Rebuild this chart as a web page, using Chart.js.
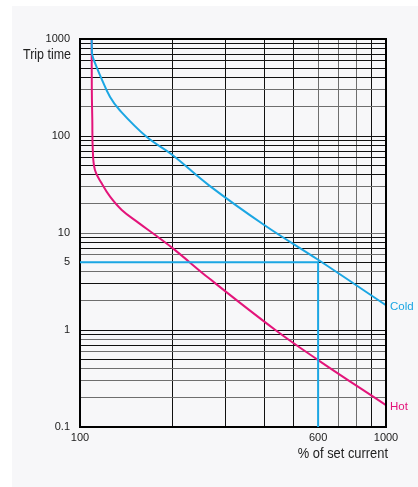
<!DOCTYPE html>
<html>
<head>
<meta charset="utf-8">
<script src="https://cdn.jsdelivr.net/npm/chart.js@4"></script>
<style>
  body { margin: 0; background: #fff; }
  #wrap { position: relative; width: 418px; height: 487px; }
  #panel { position: absolute; left: 12px; top: 6px; width: 406px; height: 481px; background: #f7f7f9; }
  #chart { position: absolute; left: 0; top: 0; }
</style>
</head>
<body>
<div id="wrap">
  <div id="panel"></div>
  <canvas id="chart" width="418" height="487"></canvas>
</div>
<script>
// cold curve (% of set current vs trip time)
const coldCurrent = [109.2, 109.3, 109.7, 111.9, 116.2, 125.4, 135.1, 165, 200, 264, 400, 600, 1000];
const coldTime = [1000, 800, 684, 566, 425, 252, 183, 98, 64, 31, 12.1, 5.3, 1.8];

// hot curve
const hotCurrent = [109.2, 109.3, 109.7, 110.1, 111.9, 117.7, 125.4, 136.9, 155, 178, 204, 264, 435, 600, 1000];
const hotTime = [1000, 298, 146, 71.8, 44.6, 32.5, 23.7, 17.3, 12.8, 9.3, 6.7, 3.41, 1.0, 0.49, 0.168];

// 5 s read-off guide at 600 %
const guideCurrent = [100, 600, 600];
const guideTime = [5, 5, 0.1];

// grid and labels
const xGrid = [100, 200, 300, 400, 500, 600, 700, 800, 900, 1000];
const xLabels = [100, 600, 1000];
const xGray = [600, 700, 800];
const yGrid = [0.1, 0.2, 0.3, 0.4, 0.5, 0.6, 0.7, 0.8, 0.9,
               1, 2, 3, 4, 5, 6, 7, 8, 9,
               10, 20, 30, 40, 50, 60, 70, 80, 90,
               100, 200, 300, 400, 500, 600, 700, 800, 900, 1000];
const yLabels = [0.1, 1, 5, 10, 100, 1000];
const yGray = [0.2, 0.3, 0.4, 0.6, 0.8, 2, 4, 6, 10, 20, 30, 200, 300];

const blue = '#1ba6e3';
const pink = '#e3147a';

const toPoints = (xs, ys) => xs.map((x, i) => ({ x: x, y: ys[i] }));
const near = (list, v) => list.some(g => Math.abs(g - v) / g < 1e-6);

function narrowText(ctx, text, x, y, squeeze) {
    ctx.save();
    ctx.translate(x, y);
    ctx.scale(squeeze, 1);
    ctx.fillText(text, 0, 0);
    ctx.restore();
}

const extras = {
    id: 'extras',
    afterDraw(chart) {
        const ctx = chart.ctx;
        const a = chart.chartArea;
        ctx.save();
        ctx.strokeStyle = '#000';
        ctx.lineWidth = 2;
        ctx.beginPath();
        ctx.moveTo(a.left, a.top);
        ctx.lineTo(a.right, a.top);
        ctx.lineTo(a.right, a.bottom);
        ctx.stroke();

        ctx.fillStyle = '#222';
        ctx.textBaseline = 'middle';
        ctx.font = '14px "Liberation Sans", Arial, sans-serif';
        ctx.textAlign = 'right';
        narrowText(ctx, 'Trip time', 71, 55, 0.89);
        narrowText(ctx, '% of set current', 388, 454, 0.92);

        ctx.font = '11.5px "Liberation Sans", Arial, sans-serif';
        ctx.textAlign = 'left';
        ctx.fillStyle = blue;
        ctx.fillText('Cold', 390, 307);
        ctx.fillStyle = pink;
        ctx.fillText('Hot', 390, 407);
        ctx.restore();
    }
};

const tickFont = { family: '"Liberation Sans", Arial, sans-serif', size: 11 };

new Chart(document.getElementById('chart'), {
    type: 'scatter',
    data: {
        datasets: [
            {
                label: 'Guide',
                data: toPoints(guideCurrent, guideTime),
                showLine: true,
                borderColor: blue,
                borderWidth: 2,
                pointRadius: 0,
                tension: 0
            },
            {
                label: 'Cold',
                data: toPoints(coldCurrent, coldTime),
                showLine: true,
                borderColor: blue,
                borderWidth: 2,
                pointRadius: 0,
                tension: 0.4
            },
            {
                label: 'Hot',
                data: toPoints(hotCurrent, hotTime),
                showLine: true,
                borderColor: pink,
                borderWidth: 2,
                pointRadius: 0,
                tension: 0.4
            }
        ]
    },
    options: {
        responsive: false,
        animation: false,
        layout: { padding: { left: 0, top: 39, right: 32, bottom: 0 } },
        plugins: {
            legend: { display: false },
            tooltip: { enabled: false }
        },
        scales: {
            x: {
                type: 'logarithmic',
                min: 100,
                max: 1000,
                afterBuildTicks: (scale) => { scale.ticks = xGrid.map(v => ({ value: v })); },
                afterFit: (scale) => { scale.height = 60; },
                ticks: {
                    autoSkip: false,
                    maxRotation: 0,
                    padding: 4,
                    color: '#222',
                    font: tickFont,
                    callback: (v) => near(xLabels, v) ? String(v) : ''
                },
                grid: {
                    drawTicks: false,
                    lineWidth: 1,
                    color: (c) => c.tick && near(xGray, c.tick.value) ? '#6e6e6e' : '#111'
                },
                border: { color: '#000', width: 2 }
            },
            y: {
                type: 'logarithmic',
                min: 0.1,
                max: 1000,
                afterBuildTicks: (scale) => { scale.ticks = yGrid.map(v => ({ value: v })); },
                afterFit: (scale) => { scale.width = 80; },
                ticks: {
                    autoSkip: false,
                    padding: 10,
                    color: '#222',
                    font: tickFont,
                    callback: (v) => near(yLabels, v) ? String(v) : ''
                },
                grid: {
                    drawTicks: false,
                    lineWidth: 1,
                    color: (c) => c.tick && near(yGray, c.tick.value) ? '#6e6e6e' : '#111'
                },
                border: { color: '#000', width: 2 }
            }
        }
    },
    plugins: [extras]
});
</script>
</body>
</html>
